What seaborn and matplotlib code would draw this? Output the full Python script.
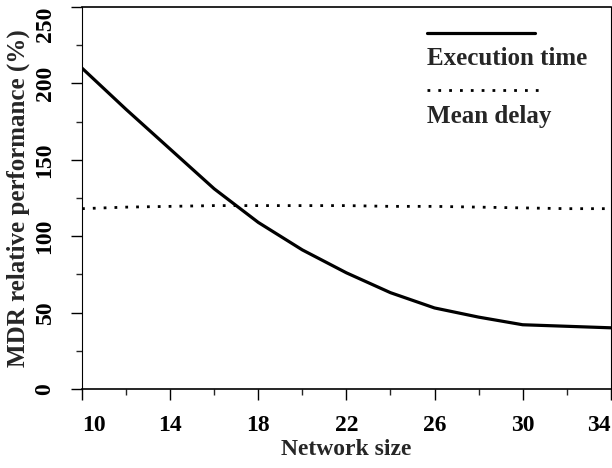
import matplotlib.pyplot as plt
import pandas as pd
import seaborn as sns

# values
network_size = [10, 12, 14, 16, 18, 20, 22, 24, 26, 28, 30, 32, 34]
execution_time = [210, 183, 157, 131, 109, 91, 76, 63, 53, 47, 42, 41, 40]
mean_delay = [118, 119, 119.5, 120, 120, 120, 120, 119.5, 119.5, 119, 118.5, 118, 118]

df = pd.DataFrame({'size': network_size, 'exec': execution_time, 'delay': mean_delay})

sns.set_style('ticks')
plt.rcParams['font.family'] = ['Liberation Serif']
plt.rcParams['font.weight'] = 'bold'
plt.rcParams['axes.labelweight'] = 'bold'

fig, ax = plt.subplots(figsize=(6.12, 4.68), dpi=100)
fig.subplots_adjust(left=0.134, right=0.998, bottom=0.169, top=0.985)

dots = (0, (1, 2.9))
sns.lineplot(data=df, x='size', y='exec', color='black', lw=2.3, ax=ax)
sns.lineplot(data=df, x='size', y='delay', color='black', lw=2.0,
             linestyle=dots, ax=ax)

ax.set_xlim(10, 34)
ax.set_ylim(0, 250)
ax.set_xticks(range(10, 35, 4))
ax.set_xticks(range(12, 35, 4), minor=True)
ax.set_yticks(range(0, 251, 50))
ax.set_yticks(range(25, 250, 50), minor=True)
ax.tick_params(which='major', direction='out', length=8, width=1, labelsize=17,
               colors='black', pad=11)
ax.tick_params(which='minor', direction='out', length=4, width=1)
plt.setp(ax.get_yticklabels(), rotation=90, va='center')
xlabels = ax.get_xticklabels()
xlabels[0].set_ha('left')
xlabels[-1].set_ha('right')
ylabels = ax.get_yticklabels()
ylabels[-1].set_va('top')

for side in ['top', 'bottom']:
    ax.spines[side].set_linewidth(1.2)
    ax.spines[side].set_color('black')
for side in ['left', 'right']:
    ax.spines[side].set_linewidth(0.8)
    ax.spines[side].set_color('black')

ax.set_xlabel('Network size', fontsize=17, labelpad=2)
ax.set_ylabel('MDR relative performance (%)', fontsize=18, labelpad=3)

# hand-drawn legend
ax.plot([0.652, 0.856], [0.932, 0.932], color='black', lw=2.3, transform=ax.transAxes)
ax.text(0.652, 0.866, 'Execution time', fontsize=18, va='center', transform=ax.transAxes)
ax.plot([0.652, 0.872], [0.783, 0.783], color='black', lw=2.0,
        linestyle=dots, transform=ax.transAxes)
ax.text(0.652, 0.714, 'Mean delay', fontsize=18, va='center', transform=ax.transAxes)

fig.savefig('out.png', dpi=100)
